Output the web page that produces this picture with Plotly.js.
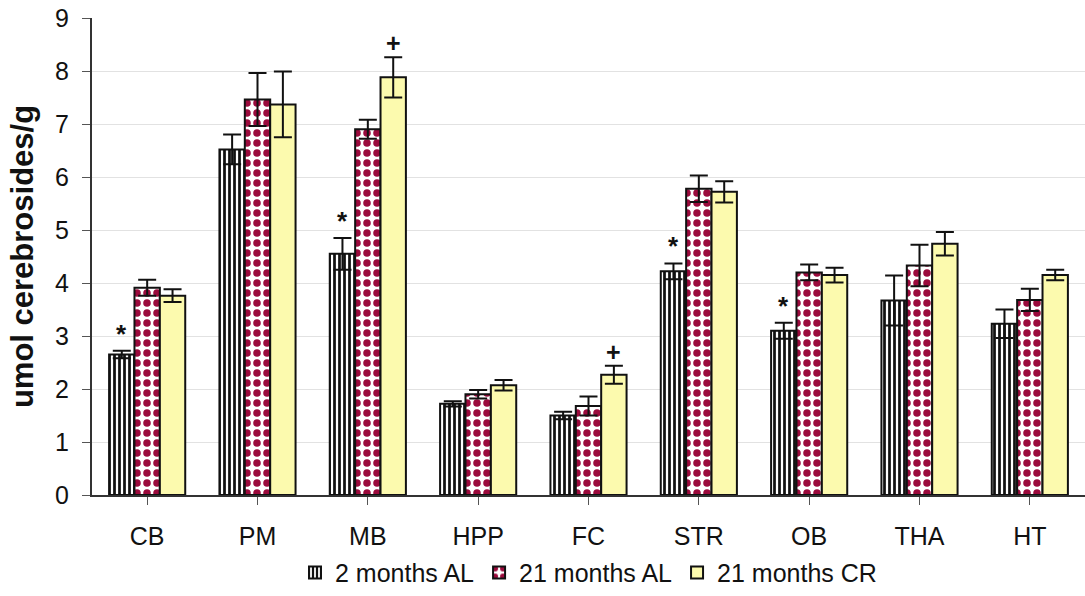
<!DOCTYPE html>
<html><head><meta charset="utf-8">
<script src="https://cdn.plot.ly/plotly-3.0.1.min.js"></script>
<style>html,body{margin:0;padding:0;background:#fff}</style>
</head><body>
<div id="chart" style="width:1085px;height:596px"></div>
<script>
const regions = ["CB","PM","MB","HPP","FC","STR","OB","THA","HT"];
const seriesNames = ["2 months AL","21 months AL","21 months CR"];
const al2 = [2.65, 6.52, 4.55, 1.72, 1.50, 4.22, 3.10, 3.67, 3.23];
const al2Err = [0.07, 0.28, 0.30, 0.05, 0.07, 0.15, 0.15, 0.47, 0.27];
const al21 = [3.91, 7.46, 6.90, 1.90, 1.68, 5.78, 4.20, 4.33, 3.68];
const al21Err = [0.15, 0.50, 0.18, 0.08, 0.18, 0.25, 0.15, 0.39, 0.21];
const cr21 = [3.76, 7.37, 7.88, 2.07, 2.27, 5.72, 4.15, 4.74, 4.15];
const cr21Err = [0.12, 0.62, 0.38, 0.10, 0.17, 0.20, 0.14, 0.22, 0.10];
const starRegions = ["CB","MB","STR","OB"];   // marked "*" on 2 months AL bars
const plusRegions = ["MB","FC"];              // marked "+" on 21 months CR bars

const idx = regions.map((_, i) => i);
const errStyle = (arr) => ({type:'data', array: arr, visible:true, color:'#111', thickness:2, width:9});
const lineStyle = {color:'#111', width:2};

const traces = [
  {type:'bar', name:seriesNames[0], x:idx, y:al2, error_y:errStyle(al2Err),
   marker:{color:'#ffffff', line:lineStyle, pattern:{shape:'|', fgcolor:'#111', bgcolor:'#ffffff', size:5, solidity:0.55}}},
  {type:'bar', name:seriesNames[1], x:idx, y:al21, error_y:errStyle(al21Err),
   marker:{color:'#ffffff', line:lineStyle, pattern:{shape:'.', fgcolor:'#9b0a3c', bgcolor:'#ffffff', size:10, solidity:0.45}}},
  {type:'bar', name:seriesNames[2], x:idx, y:cr21, error_y:errStyle(cr21Err),
   marker:{color:'#fcfaae', line:lineStyle}}
];

const groupW = 0.69, barW = groupW/3;
const annotations = [];
starRegions.forEach(r => {
  const i = regions.indexOf(r);
  annotations.push({x: i - barW, y: al2[i] + al2Err[i], xref:'x', yref:'y', text:'<b>*</b>', showarrow:false,
    yanchor:'bottom', yshift:0, font:{size:26, color:'#111', family:'Arial, Liberation Sans'}});
});
plusRegions.forEach(r => {
  const i = regions.indexOf(r);
  annotations.push({x: i + barW, y: cr21[i] + cr21Err[i], xref:'x', yref:'y', text:'<b>+</b>', showarrow:false,
    yanchor:'bottom', yshift:-2, font:{size:25, color:'#111', family:'Arial, Liberation Sans'}});
});

const layout = {
  width:1085, height:596,
  margin:{l:92, r:0, t:18, b:99},
  paper_bgcolor:'#ffffff', plot_bgcolor:'#ffffff',
  barmode:'group', bargap:0.31, bargroupgap:0,
  font:{family:'Arial, Liberation Sans, sans-serif', color:'#111', size:25},
  xaxis:{
    tickmode:'array', tickvals:idx, ticktext:regions, range:[-0.5, 8.5],
    showline:true, linecolor:'#333', linewidth:2, ticks:'outside', tickson:'boundaries',
    ticklen:8, tickcolor:'#555', tickwidth:1, ticklabelstandoff:10,
    tickfont:{size:25}, showgrid:false, zeroline:false
  },
  yaxis:{
    range:[0,9], dtick:1, showline:true, linecolor:'#333', linewidth:2,
    ticks:'outside', ticklen:8, tickcolor:'#555', tickfont:{size:25}, ticklabelstandoff:8,
    showgrid:true, gridcolor:'#e2e2e2', gridwidth:1, zeroline:false,
    title:{text:'<b>umol cerebrosides/g</b>', font:{size:31}, standoff:12}
  },
  legend:{orientation:'h', x:0.5, xanchor:'center', y:-0.163, yanchor:'middle',
    font:{size:25}, itemwidth:30, tracegroupgap:0, bgcolor:'rgba(0,0,0,0)'},
  annotations: annotations,
  showlegend:true
};

Plotly.newPlot('chart', traces, layout, {displayModeBar:false, staticPlot:true});
</script>
</body></html>
